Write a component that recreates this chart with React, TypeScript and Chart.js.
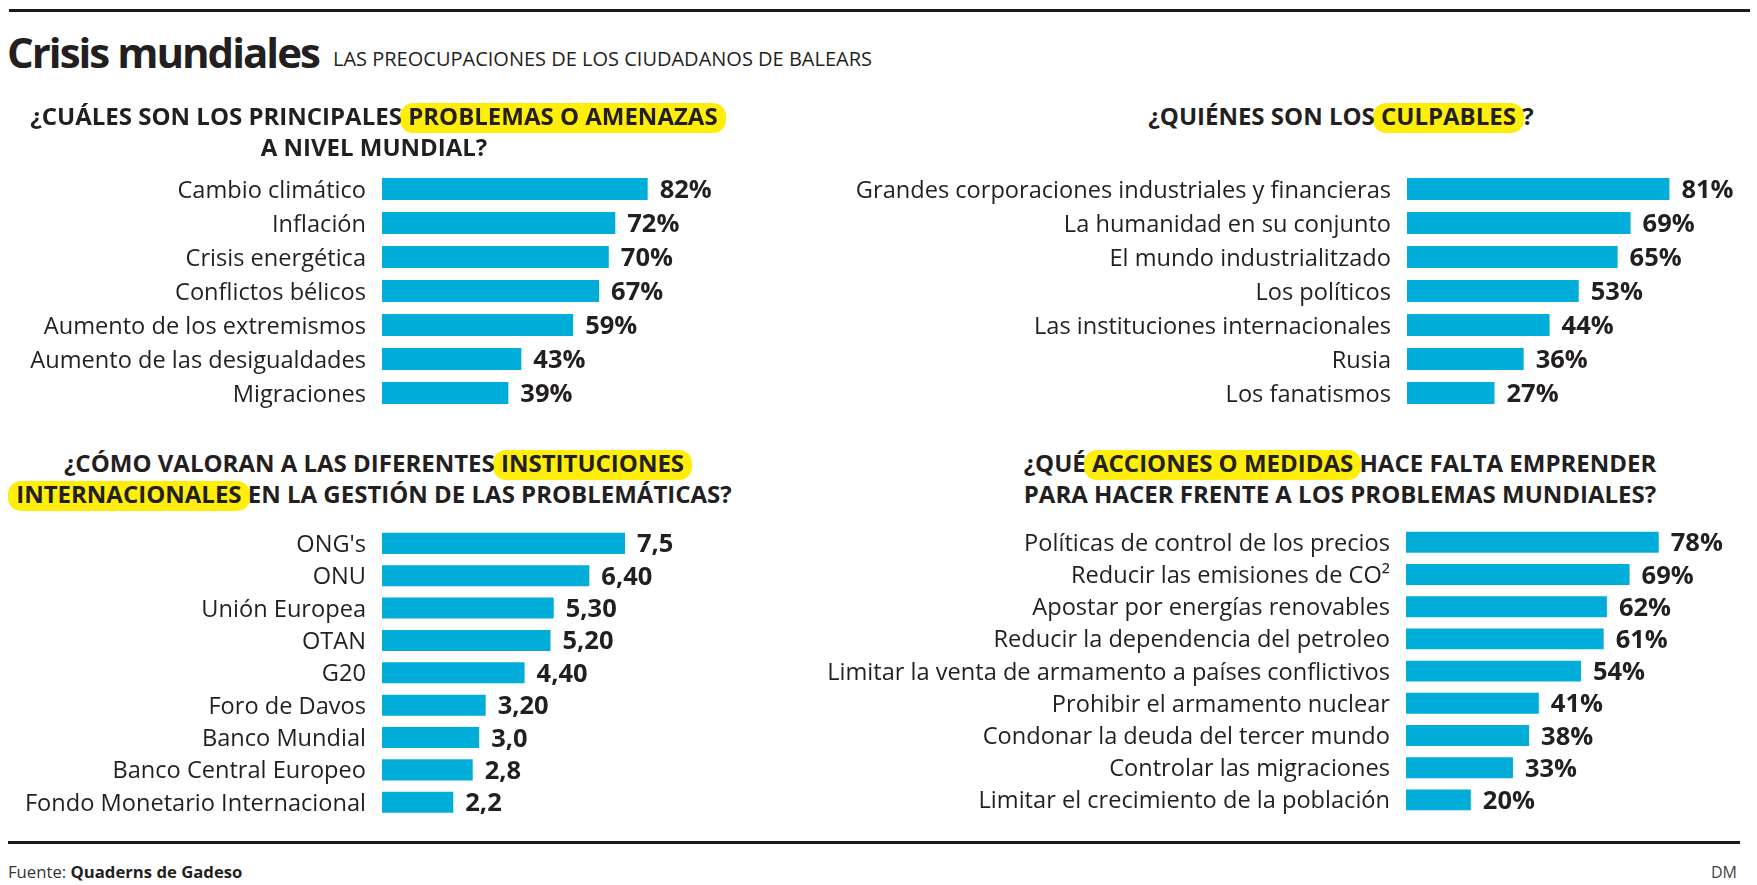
import React, { useEffect, useRef } from 'react';
import { Chart, registerables } from 'chart.js';

Chart.register(...registerables);

// ---------- DATA ----------
const problemLabels = [
  'Cambio climático',
  'Inflación',
  'Crisis energética',
  'Conflictos bélicos',
  'Aumento de los extremismos',
  'Aumento de las desigualdades',
  'Migraciones',
];
const problemValues = [82, 72, 70, 67, 59, 43, 39];

const culpritLabels = [
  'Grandes corporaciones industriales y financieras',
  'La humanidad en su conjunto',
  'El mundo industrialitzado',
  'Los políticos',
  'Las instituciones internacionales',
  'Rusia',
  'Los fanatismos',
];
const culpritValues = [81, 69, 65, 53, 44, 36, 27];

const institutionLabels = [
  "ONG's",
  'ONU',
  'Unión Europea',
  'OTAN',
  'G20',
  'Foro de Davos',
  'Banco Mundial',
  'Banco Central Europeo',
  'Fondo Monetario Internacional',
];
const institutionValues = [7.5, 6.4, 5.3, 5.2, 4.4, 3.2, 3.0, 2.8, 2.2];
const institutionValueText = ['7,5', '6,40', '5,30', '5,20', '4,40', '3,20', '3,0', '2,8', '2,2'];

const actionLabels = [
  'Políticas de control de los precios',
  'Reducir las emisiones de CO²',
  'Apostar por energías renovables',
  'Reducir la dependencia del petroleo',
  'Limitar la venta de armamento a países conflictivos',
  'Prohibir el armamento nuclear',
  'Condonar la deuda del tercer mundo',
  'Controlar las migraciones',
  'Limitar el crecimiento de la población',
];
const actionValues = [78, 69, 62, 61, 54, 41, 38, 33, 20];

// ---------- STYLE ----------
const TEXT = '#231f20';
const BAR = '#00aed9';
const YELLOW = '#ffee0a';
const FONT = '"Open Sans", "Noto Sans", sans-serif';

function labelPlugin(valueText: string[]) {
  return {
    id: 'barLabels',
    afterDatasetsDraw(chart: any) {
      const { ctx, chartArea } = chart;
      const meta = chart.getDatasetMeta(0);
      const yScale = chart.scales.y;
      ctx.save();
      ctx.fillStyle = TEXT;
      ctx.textBaseline = 'alphabetic';
      (chart.data.labels as string[]).forEach((lab, i) => {
        const y = yScale.getPixelForValue(i);
        ctx.font = `400 23.6px ${FONT}`;
        ctx.textAlign = 'right';
        ctx.fillText(lab, chartArea.left - 16, y + 8.5);
        const bar = meta.data[i];
        ctx.font = `700 25.5px ${FONT}`;
        ctx.textAlign = 'left';
        ctx.fillText(valueText[i], bar.x + 12, y + 9);
      });
      ctx.restore();
    },
  };
}

function makeChart(
  canvas: HTMLCanvasElement,
  labels: string[],
  values: number[],
  valueText: string[],
  max: number,
  padding: { left: number; right: number; top: number; bottom: number }
) {
  return new Chart(canvas, {
    type: 'bar',
    data: {
      labels,
      datasets: [
        {
          data: values,
          backgroundColor: BAR,
          borderWidth: 0,
          barPercentage: 0.65,
          categoryPercentage: 1,
        },
      ],
    },
    options: {
      indexAxis: 'y',
      responsive: false,
      animation: false,
      events: [],
      layout: { padding },
      scales: {
        x: { type: 'linear', min: 0, max, display: false },
        y: { type: 'category', display: false, offset: true },
      },
      plugins: {
        legend: { display: false },
        tooltip: { enabled: false },
        title: { display: false },
      },
    },
    plugins: [labelPlugin(valueText)],
  } as any);
}

function HL({ children }: { children: React.ReactNode }) {
  return (
    <span style={{ position: 'relative', whiteSpace: 'nowrap' }}>
      <span
        style={{
          position: 'absolute',
          left: -8,
          right: -8,
          top: 4,
          bottom: -1,
          background: YELLOW,
          borderRadius: 13,
          zIndex: -1,
        }}
      />
      {children}
    </span>
  );
}

const headerStyle = (center: number, top: number): React.CSSProperties => ({
  position: 'absolute',
  zIndex: 1,
  left: center - 420,
  width: 840,
  top,
  textAlign: 'center',
  fontSize: 24,
  fontWeight: 700,
  lineHeight: '31px',
  whiteSpace: 'nowrap',
  color: TEXT,
});

export default function App() {
  const r1 = useRef<HTMLCanvasElement>(null);
  const r2 = useRef<HTMLCanvasElement>(null);
  const r3 = useRef<HTMLCanvasElement>(null);
  const r4 = useRef<HTMLCanvasElement>(null);

  useEffect(() => {
    const pct = (arr: number[]) => arr.map((v) => `${v}%`);
    const charts = [
      makeChart(r1.current!, problemLabels, problemValues, pct(problemValues), 100, {
        left: 382, right: 94, top: 12, bottom: 20,
      }),
      makeChart(r2.current!, culpritLabels, culpritValues, pct(culpritValues), 100, {
        left: 607, right: 26, top: 12, bottom: 20,
      }),
      makeChart(r3.current!, institutionLabels, institutionValues, institutionValueText, 10, {
        left: 382, right: 94, top: 12.2, bottom: 16.6,
      }),
      makeChart(r4.current!, actionLabels, actionValues, pct(actionValues), 100, {
        left: 606, right: 27, top: 11.2, bottom: 19,
      }),
    ];
    return () => charts.forEach((c) => c.destroy());
  }, []);

  return (
    <div
      style={{
        position: 'absolute',
        left: 0,
        top: 0,
        width: 1757,
        height: 885,
        overflow: 'hidden',
        background: '#ffffff',
        fontFamily: FONT,
        color: TEXT,
      }}
    >
      <div style={{ position: 'absolute', left: 9, top: 9, width: 1741, height: 3, background: '#1a1a1a' }} />
      <div
        style={{
          position: 'absolute',
          left: 7,
          top: 31,
          fontSize: 42,
          lineHeight: '42px',
          fontWeight: 700,
          letterSpacing: -2,
          whiteSpace: 'nowrap',
        }}
      >
        Crisis mundiales
      </div>
      <div
        style={{
          position: 'absolute',
          left: 333,
          top: 49,
          fontSize: 20,
          lineHeight: '20px',
          whiteSpace: 'nowrap',
        }}
      >
        LAS PREOCUPACIONES DE LOS CIUDADANOS DE BALEARS
      </div>

      <div style={headerStyle(374, 100)}>
        ¿CUÁLES SON LOS PRINCIPALES <HL>PROBLEMAS O AMENAZAS</HL>
        <br />A NIVEL MUNDIAL?
      </div>
      <div style={headerStyle(1341, 100)}>
        ¿QUIÉNES SON LOS <HL>CULPABLES</HL> ?
      </div>
      <div style={headerStyle(374, 447)}>
        ¿CÓMO VALORAN A LAS DIFERENTES <HL>INSTITUCIONES</HL>
        <br />
        <HL>INTERNACIONALES</HL> EN LA GESTIÓN DE LAS PROBLEMÁTICAS?
      </div>
      <div style={headerStyle(1340, 447)}>
        ¿QUÉ <HL>ACCIONES O MEDIDAS</HL> HACE FALTA EMPRENDER
        <br />
        PARA HACER FRENTE A LOS PROBLEMAS MUNDIALES?
      </div>

      <canvas ref={r1} width={800} height={270} style={{ position: 'absolute', left: 0, top: 160 }} />
      <canvas ref={r2} width={957} height={270} style={{ position: 'absolute', left: 800, top: 160 }} />
      <canvas ref={r3} width={800} height={320} style={{ position: 'absolute', left: 0, top: 515 }} />
      <canvas ref={r4} width={957} height={320} style={{ position: 'absolute', left: 800, top: 515 }} />

      <div style={{ position: 'absolute', left: 8, top: 841, width: 1732, height: 3, background: '#1a1a1a' }} />
      <div
        style={{
          position: 'absolute',
          left: 8,
          top: 864,
          fontSize: 16.7,
          lineHeight: '16px',
          color: '#333',
          whiteSpace: 'nowrap',
        }}
      >
        Fuente: <b style={{ color: TEXT }}>Quaderns de Gadeso</b>
      </div>
      <div
        style={{
          position: 'absolute',
          left: 1600,
          width: 137,
          top: 864,
          fontSize: 16,
          lineHeight: '16px',
          textAlign: 'right',
          color: '#444',
        }}
      >
        DM
      </div>
    </div>
  );
}
